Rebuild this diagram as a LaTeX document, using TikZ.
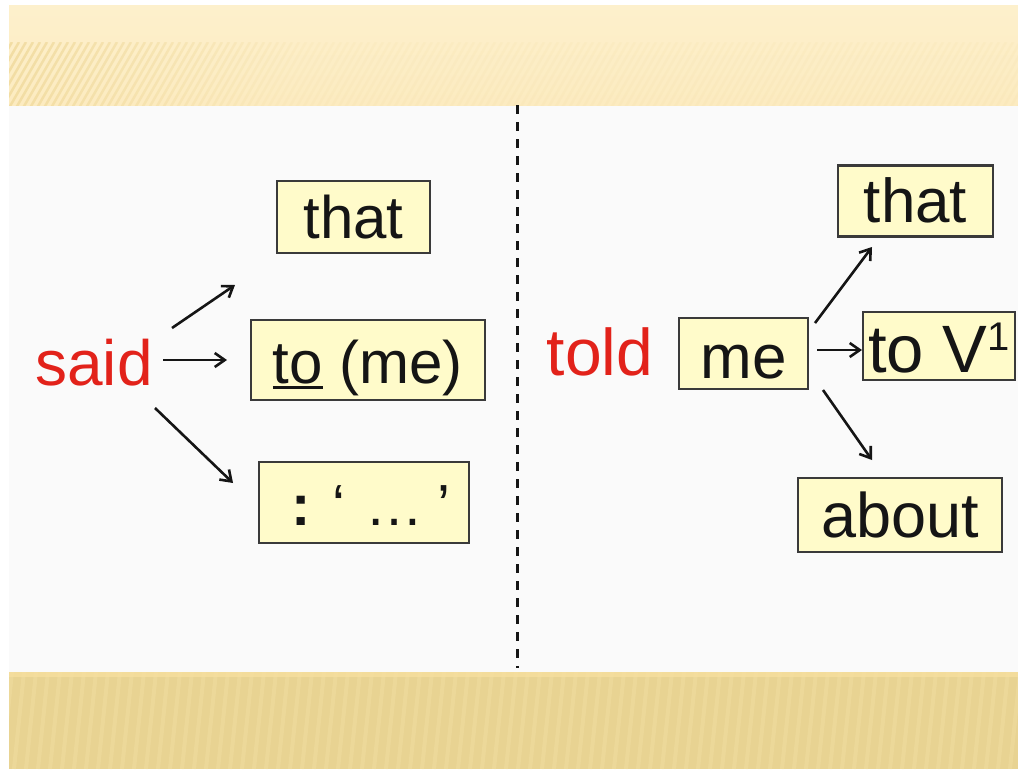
\documentclass[tikz,border=0pt]{standalone}
\usepackage{fontspec}
\setmainfont{Liberation Sans}
\usetikzlibrary{arrows.meta}
\definecolor{topbandA}{HTML}{FDF0CC}
\definecolor{topbandB}{HTML}{FCEBC0}
\definecolor{stripeTop}{HTML}{E9CF86}
\definecolor{botband}{HTML}{E8D392}
\definecolor{stripeBot}{HTML}{F2DFA3}
\definecolor{botline}{HTML}{F6DF9E}
\definecolor{mainbg}{HTML}{FAFAFA}
\definecolor{boxfill}{HTML}{FFFBCA}
\definecolor{boxline}{HTML}{3A3A3A}
\definecolor{redword}{HTML}{E2221A}
\definecolor{ink}{HTML}{151515}
\newcommand\myuline[1]{\setbox0\hbox{#1}\rlap{\rule[-6pt]{\wd0}{3pt}}\box0\relax}
\tikzset{
  wordbox/.style={draw=boxline, line width=2.5pt, fill=boxfill, inner sep=0pt, text=ink, text depth=0pt},
  redlabel/.style={text=redword, inner sep=0pt, anchor=base},
  arr/.style={draw=ink, line width=2.6pt, -{Straight Barb[length=10pt,width=14pt,line width=2.6pt]}},
  divider/.style={draw=ink, line width=3pt, dash pattern=on 9pt off 8pt},
}
\begin{document}
\begin{tikzpicture}[x=1pt,y=-1pt]
\useasboundingbox (0,0) rectangle (1018,769);
\fill[white] (0,0) rectangle (1018,769);
% main background
\fill[mainbg] (9,105) rectangle (1018,672);
% top band
\shade[top color=topbandA, bottom color=topbandB] (9,5) rectangle (1018,105);
\begin{scope}
  \clip (9,42) rectangle (1018,105);
  \foreach \i in {-40,-33,...,1060} {
    \pgfmathsetmacro\op{max(0.08,0.5-\i/650)}
    \draw[stripeTop, line width=2.5pt, opacity=\op] (\i,108) -- ++(38,-66);
  }
\end{scope}
% bottom band
\fill[botband] (9,672) rectangle (1018,769);
\begin{scope}
  \clip (9,672) rectangle (1018,769);
  \foreach \i in {-10,2,...,1040} {
    \draw[stripeBot, line width=4pt, opacity=0.45] (\i,769) -- ++(10,-97);
  }
\end{scope}
\fill[botline, opacity=0.8] (9,672) rectangle (1018,677);
% divider
\coordinate (dtop) at (517,105);
\coordinate (dbot) at (517,668);
\draw[divider] (dtop) -- (dbot);
% left side
\node[redlabel, font=\fontsize{64}{70}\selectfont] (said) at (94,385) {said};
\node[wordbox, minimum width=153pt, minimum height=72pt, text height=42pt, font=\fontsize{60}{70}\selectfont] (thatL) at (353.5,217) {that};
\node[wordbox, minimum width=234pt, minimum height=80pt, text height=46pt, font=\fontsize{60}{70}\selectfont] (tome) at (368,360) {\myuline{to} (me)};
\node[wordbox, minimum width=210pt, minimum height=81pt, text height=45pt, font=\fontsize{58}{70}\selectfont] (quote) at (364,502.5) {\makebox[210pt][l]{\hspace{32pt}{\bfseries :}\hspace{22pt}‘\hspace{20pt}…\hspace{14pt}’}};
\coordinate (a1s) at (172,328); \coordinate (a1e) at (235,285);
\coordinate (a2s) at (163,360); \coordinate (a2e) at (227,360);
\coordinate (a3s) at (155,408); \coordinate (a3e) at (233,483);
\draw[arr] (a1s) -- (a1e);
\draw[arr] (a2s) -- (a2e);
\draw[arr] (a3s) -- (a3e);
% right side
\node[redlabel, font=\fontsize{66}{70}\selectfont] (told) at (600,375) {told};
\node[wordbox, minimum width=129pt, minimum height=71pt, text height=50pt, font=\fontsize{62}{70}\selectfont] (me) at (743.5,353.5) {me};
\node[wordbox, minimum width=155pt, minimum height=71pt, text height=43pt, font=\fontsize{62}{70}\selectfont] (thatR) at (915.5,201) {that};
\node[wordbox, minimum width=152pt, minimum height=68pt, text height=52pt, font=\fontsize{67}{70}\selectfont] (toV) at (939,346) {to V{\fontsize{40}{40}\selectfont\raisebox{22pt}{1}}};
\node[wordbox, minimum width=204pt, minimum height=74pt, text height=44pt, font=\fontsize{63}{70}\selectfont] (about) at (900,515) {about};
\coordinate (b1s) at (815,323); \coordinate (b1e) at (872,247);
\coordinate (b2s) at (817,350); \coordinate (b2e) at (862,350);
\coordinate (b3s) at (823,390); \coordinate (b3e) at (872,460);
\draw[arr] (b1s) -- (b1e);
\draw[arr] (b2s) -- (b2e);
\draw[arr] (b3s) -- (b3e);
\end{tikzpicture}
\end{document}
